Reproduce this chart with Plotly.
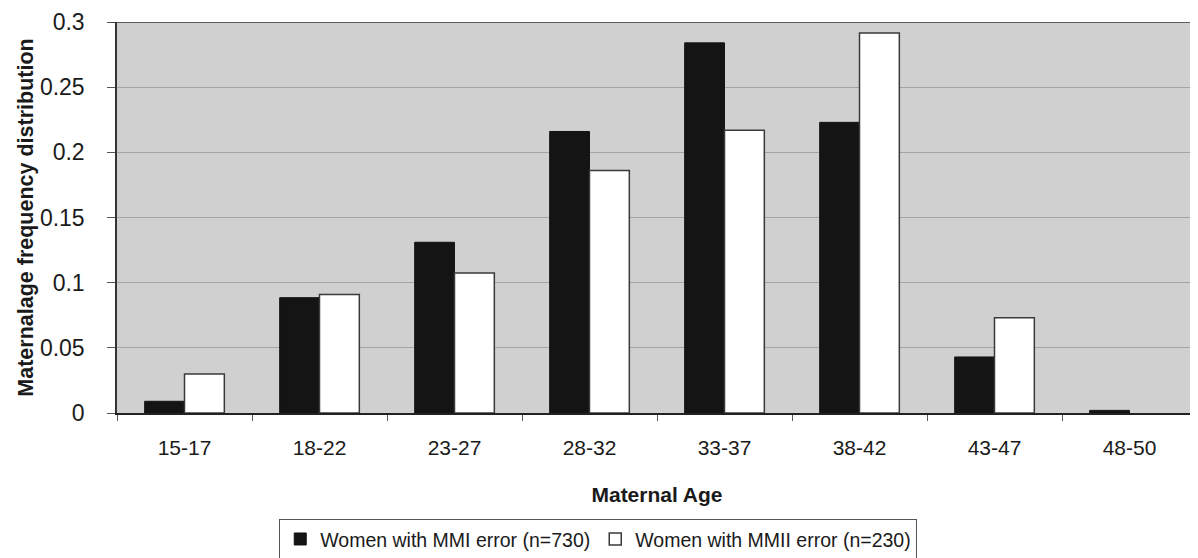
import plotly.graph_objects as go

categories = ["15-17", "18-22", "23-27", "28-32", "33-37", "38-42", "43-47", "48-50"]
mmi_values = [0.009, 0.0885, 0.131, 0.216, 0.284, 0.223, 0.043, 0.002]
mmii_values = [0.030, 0.091, 0.1075, 0.186, 0.217, 0.2915, 0.073, 0.0]
y_ticks = [0, 0.05, 0.1, 0.15, 0.2, 0.25, 0.3]
y_tick_labels = ["0", "0.05", "0.1", "0.15", "0.2", "0.25", "0.3"]

font_family = "Liberation Sans, Arial, sans-serif"

fig = go.Figure()
fig.add_trace(go.Bar(
    x=categories, y=mmi_values, name="Women with MMI error (n=730)",
    marker=dict(color="#141414", line=dict(color="#141414", width=1)),
))
fig.add_trace(go.Bar(
    x=categories, y=mmii_values, name="Women with MMII error (n=230)",
    marker=dict(color="#ffffff",
                line=dict(color="#3a3a3a", width=[0 if v == 0 else 1.5 for v in mmii_values])),
))

fig.update_layout(
    width=1190, height=550,
    margin=dict(l=109, r=1, t=14, b=145, autoexpand=False),
    paper_bgcolor="white",
    plot_bgcolor="#d0d0d0",
    barmode="group",
    bargap=0.41,
    bargroupgap=0,
    font=dict(family=font_family, size=20, color="#1a1a1a"),
    showlegend=True,
    legend=dict(
        orientation="h", x=0.496, xref="container", xanchor="center",
        y=0.034, yref="container", yanchor="middle",
        bordercolor="#555555", borderwidth=1,
        font=dict(size=19.5), itemwidth=30, tracegroupgap=0,
        bgcolor="white",
    ),
    xaxis=dict(
        type="category",
        tickson="boundaries",
        ticks="outside", ticklen=6, tickcolor="#555555",
        showline=True, linecolor="#222222", linewidth=1.5,
        showgrid=False, automargin=False,
        ticklabelstandoff=15,
        title=dict(text="<b>Maternal Age</b>", font=dict(size=21), standoff=29),
        tickfont=dict(size=21),
    ),
    yaxis=dict(
        range=[0, 0.3],
        tickvals=y_ticks, ticktext=y_tick_labels,
        ticks="outside", ticklen=8, tickcolor="#555555",
        showline=True, linecolor="#333333", linewidth=1.5,
        showgrid=True, gridcolor="#a4a4a4", gridwidth=1.2,
        zeroline=False, automargin=False,
        ticklabelstandoff=18,
        title=dict(text="<b>Maternalage frequency distribution</b>", font=dict(size=21.5), standoff=0),
        tickfont=dict(size=23),
    ),
)

fig.add_shape(type="line", xref="paper", yref="y", x0=-0.006, x1=1, y0=0.3, y1=0.3,
              line=dict(color="#333333", width=1.5))

fig.write_html("out.html")
